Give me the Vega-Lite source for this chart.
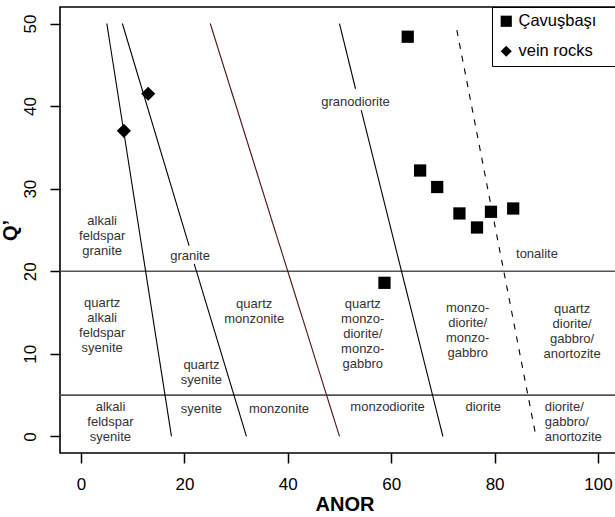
{
  "$schema": "https://vega.github.io/schema/vega-lite/v6.json",
  "width": 569,
  "height": 446,
  "autosize": "none",
  "padding": {"left": 60, "top": 7, "right": 0, "bottom": 64},
  "background": "white",
  "config": {
    "font": "Liberation Sans",
    "view": {"stroke": "black", "strokeWidth": 1.6},
    "axis": {"grid": false, "domain": false, "tickColor": "black", "tickWidth": 1.5, "tickSize": 10, "labelColor": "black", "labelFontSize": 17, "titleColor": "black", "titleFontSize": 20, "titleFontWeight": "bold", "labelFont": "Liberation Sans", "titleFont": "Liberation Sans"}
  },
  "datasets": {
    "lines": [
      {"seg": "a", "anor": 5, "q": 50}, {"seg": "a", "anor": 17.5, "q": 0},
      {"seg": "b1", "anor": 8, "q": 50}, {"seg": "b1", "anor": 20.9, "q": 23.1},
      {"seg": "b2", "anor": 21.9, "q": 20.9}, {"seg": "b2", "anor": 32, "q": 0},
      {"seg": "d1", "anor": 50, "q": 50}, {"seg": "d1", "anor": 53.1, "q": 42.1},
      {"seg": "d2", "anor": 54.2, "q": 39.5}, {"seg": "d2", "anor": 70, "q": 0}
    ],
    "brown": [{"anor": 25, "q": 50}, {"anor": 50, "q": 0}],
    "dashed": [{"anor": 72.7, "q": 49.2}, {"anor": 88, "q": 0}],
    "hlines": [{"q": 20}, {"q": 5}],
    "squares": [
      {"group": "Çavuşbaşı", "anor": 63.2, "q": 48.4},
      {"group": "Çavuşbaşı", "anor": 65.6, "q": 32.2},
      {"group": "Çavuşbaşı", "anor": 68.9, "q": 30.2},
      {"group": "Çavuşbaşı", "anor": 73.2, "q": 27.0},
      {"group": "Çavuşbaşı", "anor": 76.6, "q": 25.3},
      {"group": "Çavuşbaşı", "anor": 79.3, "q": 27.2},
      {"group": "Çavuşbaşı", "anor": 83.6, "q": 27.6},
      {"group": "Çavuşbaşı", "anor": 58.7, "q": 18.6}
    ],
    "diamonds": [
      {"group": "vein rocks", "anor": 8.3, "q": 37.0},
      {"group": "vein rocks", "anor": 13.0, "q": 41.5}
    ],
    "labels": [
      {"label": "alkali\nfeldspar\ngranite", "anor": 4.1, "q": 26.1},
      {"label": "granite", "anor": 21.1, "q": 21.9},
      {"label": "granodiorite", "anor": 53.1, "q": 40.5},
      {"label": "tonalite", "anor": 88.2, "q": 22.1},
      {"label": "quartz\nalkali\nfeldspar\nsyenite", "anor": 4.1, "q": 16.2},
      {"label": "quartz\nmonzonite", "anor": 33.5, "q": 16.0},
      {"label": "quartz\nsyenite", "anor": 23.3, "q": 8.7},
      {"label": "quartz\nmonzo-\ndiorite/\nmonzo-\ngabbro", "anor": 54.5, "q": 16.0},
      {"label": "monzo-\ndiorite/\nmonzo-\ngabbro", "anor": 74.8, "q": 15.6},
      {"label": "quartz\ndiorite/\ngabbro/\nanortozite", "anor": 95.0, "q": 15.4},
      {"label": "alkali\nfeldspar\nsyenite", "anor": 5.7, "q": 3.5},
      {"label": "syenite", "anor": 23.3, "q": 3.3},
      {"label": "monzonite", "anor": 38.3, "q": 3.3},
      {"label": "monzodiorite", "anor": 59.3, "q": 3.5},
      {"label": "diorite", "anor": 77.8, "q": 3.5}
    ],
    "labelsLeft": [
      {"label": "diorite/\ngabbro/\nanortozite", "anor": 89.7, "q": 3.6}
    ]
  },
  "encoding": {
    "x": {"field": "anor", "type": "quantitative", "scale": {"domain": [-4.06, 106], "nice": false, "zero": false},
      "axis": {"values": [0, 20, 40, 60, 80, 100], "title": "ANOR", "labelPadding": 13, "titlePadding": 2}},
    "y": {"field": "q", "type": "quantitative", "scale": {"domain": [-2.01, 52.0], "nice": false, "zero": false},
      "axis": {"values": [0, 10, 20, 30, 40, 50], "title": "Q’", "labelAngle": 270, "labelAlign": "center", "labelBaseline": "bottom", "labelPadding": 11, "titlePadding": 1}}
  },
  "layer": [
    {"data": {"name": "hlines"}, "mark": {"type": "rule", "color": "#555555", "strokeWidth": 1.6}, "encoding": {"x": null, "y": {"field": "q", "type": "quantitative"}}},
    {"data": {"name": "lines"}, "mark": {"type": "line", "color": "black", "strokeWidth": 1.1}, "encoding": {"detail": {"field": "seg"}, "order": {"field": "q", "sort": "descending"}}},
    {"data": {"name": "brown"}, "mark": {"type": "line", "color": "#4a1212", "strokeWidth": 1.1}, "encoding": {}},
    {"data": {"name": "dashed"}, "mark": {"type": "line", "color": "black", "strokeWidth": 1.1, "strokeDash": [6, 7]}, "encoding": {}},
    {"data": {"name": "labels"}, "mark": {"type": "text", "fontSize": 13, "lineHeight": 15, "color": "#333333", "align": "center", "baseline": "middle", "lineBreak": "\n"}, "encoding": {"text": {"field": "label"}}},
    {"data": {"name": "labelsLeft"}, "mark": {"type": "text", "fontSize": 13, "lineHeight": 15, "color": "#333333", "align": "left", "baseline": "middle", "lineBreak": "\n"}, "encoding": {"text": {"field": "label"}}},
    {"data": {"name": "squares"}, "mark": {"type": "point", "filled": true, "color": "black", "opacity": 1, "size": 150},
      "encoding": {
        "shape": {"field": "group", "type": "nominal", "scale": {"domain": ["Çavuşbaşı", "vein rocks"], "range": ["square", "diamond"]},
          "legend": {"title": null, "orient": "none", "legendX": 432, "legendY": 0, "strokeColor": "black", "fillColor": "white", "padding": 6, "rowPadding": 13, "labelFontSize": 16.5, "labelColor": "black", "symbolSize": 125, "symbolFillColor": "black", "symbolStrokeColor": "black", "symbolStrokeWidth": 0, "labelOffset": 4, "labelExpr": "datum.label + '\u00a0\u00a0\u00a0\u00a0\u00a0\u00a0\u200b'"}}
      }},
    {"data": {"name": "diamonds"}, "mark": {"type": "point", "filled": true, "color": "black", "opacity": 1, "size": 200},
      "encoding": {
        "shape": {"field": "group", "type": "nominal"}
      }}
  ]
}
